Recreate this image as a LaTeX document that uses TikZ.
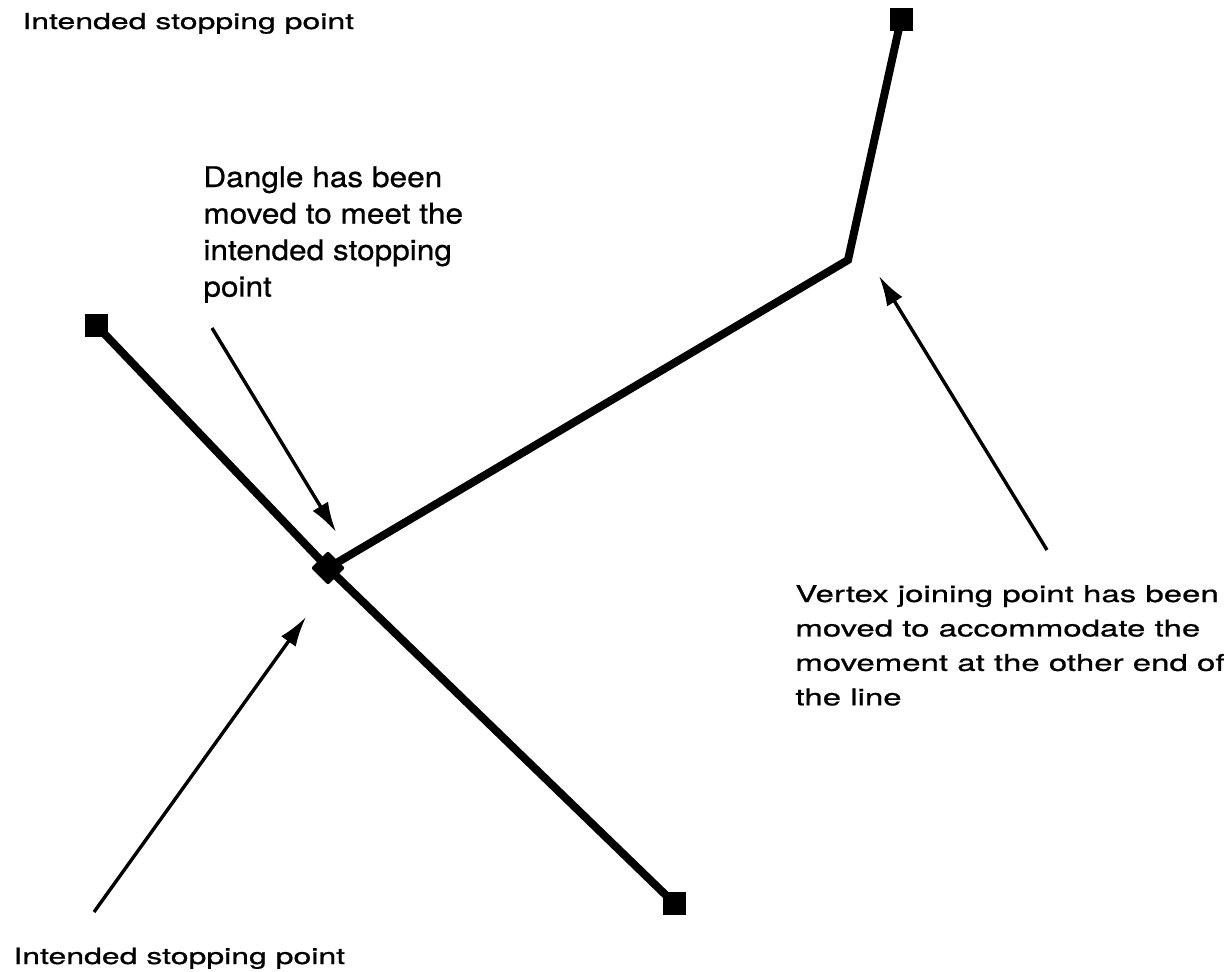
\documentclass[tikz,border=0pt]{standalone}
\usepackage{fontspec}
\setmainfont{TeX Gyre Heros}[FakeBold=0.6]
\usepackage{graphicx}
\usetikzlibrary{arrows.meta}

% squeezed multi-line label
\newcommand{\squashed}[2]{\scalebox{1}[#1]{\begin{tabular}[t]{@{}l@{}}#2\end{tabular}}}

\tikzset{
    feature/.style={line width=4pt, line join=miter},
    endsq/.style={fill=black, minimum size=11.5pt, inner sep=0pt},
    joinsq/.style={fill=black, minimum size=12pt, inner sep=0pt, rotate=45, rounded corners=1pt},
    pointer/.style={line width=1.7pt, -{Latex[length=15pt,width=9pt]}},
    note/.style={inner sep=0pt, anchor=base west}
}

\begin{document}
\begin{tikzpicture}[x=0.5pt,y=-0.5pt]

\useasboundingbox (0,0) rectangle (1231,971);

% Points of the two lines
\coordinate (endA) at (96,325);
\coordinate (endB) at (674,903);
\coordinate (endC) at (901,19);
\coordinate (joint) at (328,568);
\coordinate (vertex) at (848,260);

% Lines
\draw[feature] (endA) -- (joint) -- (endB);
\draw[feature] (joint) -- (vertex) -- (endC);

% End markers
\node[endsq] (sqA) at (endA) {};
\node[endsq] (sqB) at (endB) {};
\node[endsq] (sqC) at (endC) {};
\node[joinsq] (sqJ) at (joint) {};

% Labels
\node[note, font=\fontsize{16}{24}\selectfont] (topnote) at (22,29)
    {\squashed{0.69}{Intended stopping point}};
\node[note, font=\fontsize{15.8}{20.3}\selectfont] (danglenote) at (203,187)
    {\squashed{0.9}{Dangle has been\\moved to meet the\\intended stopping\\point}};
\node[note, font=\fontsize{16.5}{24.6}\selectfont] (vertexnote) at (795,602)
    {\squashed{0.7}{Vertex joining point has been\\moved to accommodate the\\movement at the other end of\\the line}};
\node[note, font=\fontsize{16}{24}\selectfont] (bottomnote) at (13,964)
    {\squashed{0.7}{Intended stopping point}};

% Arrows
\coordinate (dangletail) at (212,328);
\coordinate (danglehead) at (336,532);
\coordinate (stoptail) at (94,912);
\coordinate (stophead) at (306,617);
\coordinate (vertextail) at (1047,550);
\coordinate (vertexhead) at (879,276);
\draw[pointer] (dangletail) -- (danglehead);
\draw[pointer] (stoptail) -- (stophead);
\draw[pointer] (vertextail) -- (vertexhead);

\end{tikzpicture}
\end{document}
